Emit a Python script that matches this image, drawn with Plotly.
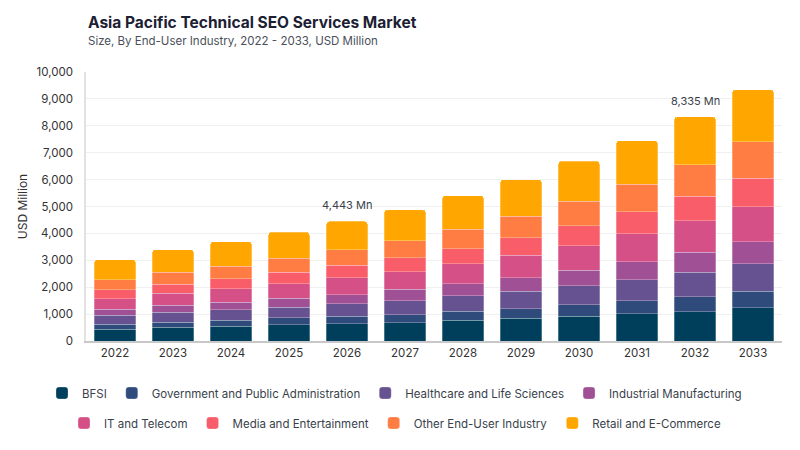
import plotly.graph_objects as go

years = [str(y) for y in range(2022, 2034)]

bfsi = [434, 508, 546, 595, 645, 682, 769, 843, 918, 1017, 1091, 1228]
government = [198, 186, 223, 261, 273, 298, 335, 360, 421, 483, 558, 620]
healthcare = [323, 372, 384, 396, 458, 520, 570, 645, 719, 782, 905, 1016]
industrial = [223, 261, 285, 335, 348, 422, 459, 508, 571, 669, 744, 831]
it_telecom = [397, 446, 509, 546, 620, 657, 744, 831, 917, 1042, 1166, 1302]
media = [322, 335, 372, 421, 471, 521, 558, 657, 744, 806, 918, 1051]
other = [372, 446, 459, 521, 570, 632, 719, 794, 906, 1029, 1178, 1351]
retail = [757, 844, 917, 967, 1058, 1141, 1252, 1364, 1488, 1624, 1775, 1935]

series = [
    ("BFSI", bfsi, "#003f5c", "legend"),
    ("Government and Public Administration", government, "#2f4b7c", "legend"),
    ("Healthcare and Life Sciences", healthcare, "#665191", "legend"),
    ("Industrial Manufacturing", industrial, "#a05195", "legend"),
    ("IT and Telecom", it_telecom, "#d45087", "legend2"),
    ("Media and Entertainment", media, "#f95d6a", "legend2"),
    ("Other End-User Industry", other, "#ff7c43", "legend2"),
    ("Retail and E-Commerce", retail, "#ffa600", "legend2"),
]

callouts = {"2026": "4,443 Mn", "2032": "8,335 Mn"}

# the page puts the figure 8px in from the top-left corner, so pull everything back by that
off = 8
plot_l, plot_r, plot_t, plot_b = 86 - off, 782 - off, 72 - off, 341 - off
plot_w, plot_h = plot_r - plot_l, plot_b - plot_t

fig = go.Figure()
for name, vals, col, leg in series:
    fig.add_trace(go.Bar(x=years, y=vals, name=name, legend=leg,
                         marker=dict(color=col, line=dict(color="rgba(255,255,255,0.45)", width=0.6))))

# totals for the callouts (x given as category index, "2026" would be read as a number)
totals = [sum(v) for v in zip(*[s[1] for s in series])]
for yr, txt in callouts.items():
    i = years.index(yr)
    fig.add_annotation(x=i, y=totals[i], text=txt, showarrow=False, yanchor="bottom", yshift=7,
                       font=dict(size=11, color="#3a3f4b"))

fig.add_annotation(xref="paper", yref="paper", x=0, y=1 + (72 - 22) / plot_h, xanchor="left",
                   yanchor="middle", text="<b>Asia Pacific Technical SEO Services Market</b>",
                   showarrow=False, font=dict(size=15.5, color="#1c2033"))
fig.add_annotation(xref="paper", yref="paper", x=0, y=1 + (72 - 41) / plot_h, xanchor="left",
                   yanchor="middle", text="Size, By End-User Industry, 2022 - 2033, USD Million",
                   showarrow=False, font=dict(size=11.5, color="#4a4f5a"))

# legend rows sit below the plot, left of it so plotly lets them run wide
legend_style = dict(orientation="h", xanchor="left", yanchor="middle",
                    font=dict(size=11.5, color="#3a3f4b"),
                    bgcolor="rgba(0,0,0,0)", traceorder="normal")

fig.update_layout(
    width=800, height=450,
    barmode="stack", bargap=0.29, barcornerradius=3,
    font=dict(family="Inter, Roboto, sans-serif", color="#444"),
    plot_bgcolor="white", paper_bgcolor="white",
    margin=dict(l=plot_l, r=800 - plot_r, t=plot_t, b=450 - plot_b),
    legend=dict(legend_style, x=(42 - off - plot_l) / plot_w, y=(341 - 393) / plot_h),
    legend2=dict(legend_style, x=(64 - off - plot_l) / plot_w, y=(341 - 423) / plot_h),
    xaxis=dict(type="category", range=[-0.5, len(years) - 0.5], showgrid=False, showline=True,
               linecolor="#c8c8c8", linewidth=1.5, ticks="", tickfont=dict(size=11.5, color="#333"),
               automargin=False),
    yaxis=dict(range=[0, 10000], dtick=1000, tickformat=",", showgrid=True, gridcolor="#f0f0f0",
               showline=True, linecolor="#e2e2e2", linewidth=1.5, zeroline=False, ticks="",
               ticklabelstandoff=9, tickfont=dict(size=11.5, color="#333"), automargin=False,
               title=dict(text="USD Million", font=dict(size=12, color="#333"), standoff=6)),
)

fig.write_html("out.html")
